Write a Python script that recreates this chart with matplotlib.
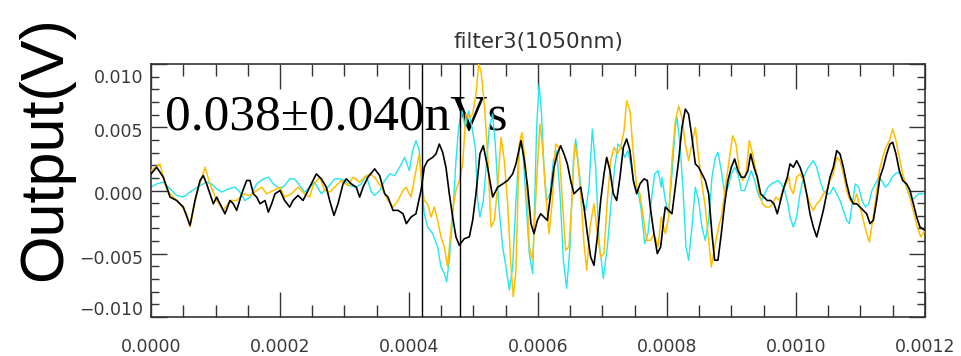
import numpy as np
import matplotlib.pyplot as plt
from matplotlib.ticker import MultipleLocator
from matplotlib.transforms import ScaledTranslation

# time in microseconds, signal in millivolts
t_black = [0, 8.8, 19.1, 24.3, 29.5, 39.8, 50.1, 60.5, 68.2, 76.0, 81.1, 86.3, 91.5, 96.6, 101.8, 109.6,
           114.7, 122.5, 127.6, 132.8, 140.6, 148.3, 153.5, 158.7, 163.8, 169.0, 176.8, 181.9, 187.1, 192.3, 200.0,
           207.2, 215.0, 220.2, 227.9, 235.7, 243.4, 251.2, 256.3, 264.1, 271.8, 277.0, 283.7, 289.9, 297.7,
           302.8, 310.6, 318.3, 323.5, 328.7, 336.4, 346.8, 354.5, 362.3, 367.4, 375.2, 383.0, 390.7, 395.9,
           403.1, 410.8, 418.6, 423.7, 428.9, 436.7, 441.8, 447.0, 452.2, 457.3, 462.5, 467.7, 472.8, 478.0,
           485.7, 493.5, 498.7, 503.8, 510.0, 515.2, 521.9, 529.7, 537.4, 545.2, 552.9, 560.7, 565.8, 573.6,
           578.8, 583.9, 589.1,
           593.8, 599.0, 604.1, 609.3, 614.5, 619.6, 624.8, 630.0, 635.1, 640.3, 645.5, 650.6, 655.8, 661.0,
           666.2, 671.3, 676.5, 681.6, 686.8, 692.0, 697.2, 702.3, 706.5, 711.6, 716.8, 722.0, 727.1, 732.3,
           737.5, 742.6, 747.8, 753.0, 758.1, 764.3, 769.5, 774.7, 779.8, 785.0, 790.2, 795.3,
           797.4, 802.5, 807.7, 812.9, 818.0, 823.2, 828.4, 833.5, 838.7, 843.9, 849.0, 854.2, 859.4, 864.6,
           869.7, 873.9, 879.0, 884.2, 889.4, 894.5, 899.7, 904.9, 910.0, 915.2, 920.4, 925.5, 929.7, 934.8,
           940.0, 945.2, 950.3, 955.5, 960.7, 965.8, 971.0, 976.2, 981.3, 986.5,
           990.7, 995.9, 1001.0, 1006.2, 1011.4, 1016.5, 1021.7, 1026.9, 1032.1, 1037.2, 1042.4, 1047.6,
           1052.7, 1057.9, 1063.1, 1068.2, 1073.4, 1078.6, 1083.7, 1088.9, 1094.1, 1099.2, 1104.4, 1109.6,
           1114.7, 1119.9, 1125.1, 1130.2, 1135.4, 1140.6, 1145.7, 1149.9, 1155.0, 1160.2, 1165.4, 1171.6,
           1176.8, 1181.9, 1187.1, 1192.2, 1200.0]
v_black = [1.31, 1.84, 1.05, 0.26, -0.52, -0.79, -1.31, -2.76, -0.79, 0.79, 1.18, 0.52, -0.26, -1.05, -0.52, -1.31,
           -1.84, -0.79, -1.05, -1.57, -0.26, 0.79, 0.79, -0.26, -0.52, -1.05, -0.79, -1.71, -1.05, -0.26, 0.0,
           -0.79, -1.31, -0.79, -0.39, -0.79, 0.0, 0.79, 1.31, 0.92, 0.26, -0.79, -1.97, -1.05, 0.52,
           0.92, 0.52, 0.26, -0.52, 0.26, 1.05, 1.71, 1.18, -0.26, -0.52, -1.57, -1.57, -1.84, -2.62,
           -2.10, -1.84, 0.0, 1.84, 2.36, 2.62, 2.89, 3.67, 3.02, 1.84, -0.26, -2.10, -3.67, -4.33,
           -3.81, -3.67, -2.36, -0.26, 2.89, 3.54, 1.84, -0.52, 0.26, 0.52, 0.79, 1.31, 2.10, 3.94,
           2.36, 0.26, -2.62,
           -3.41, -2.36, -1.84, -2.10, -2.36, -0.26, 1.84, 2.89, 3.54, 2.89, 2.10, 0.79, -0.26, 0.0,
           0.26, -1.31, -3.41, -5.25, -5.91, -3.67, -0.79, 1.31, 2.62, 1.57, -0.26, -0.79, 1.05, 3.41,
           4.07, 3.15, 0.79, -0.26, 0.52, 0.92, 0.79, -1.57, -3.41, -4.99, -4.46, -2.10,
           -1.31, -1.57, -1.84, 0.26, 2.36, 4.99, 6.43, 6.04, 4.20, 2.10, 1.84, 1.31, 0.79, -0.26,
           -3.41, -5.51, -5.51, -3.41, -1.05, 0.79, 1.84, 2.49, 1.57, 1.05, 1.05, 1.57, 2.89, 1.84,
           1.05, -0.26, -0.52, -0.79, -0.79, -1.05, -1.84, -0.79, 0.26, 1.05,
           2.10, 1.84, 2.36, 1.84, 1.05, -0.26, -1.84, -2.89, -3.67, -2.62, -1.57, -0.26,
           1.05, 1.84, 3.15, 2.89, 1.84, 0.52, -0.52, -1.05, -1.05, -1.31, -1.57, -1.84,
           -2.62, -2.36, -0.79, 1.05, 1.84, 2.89, 3.67, 3.81, 2.89, 1.57, 0.79, 0.52,
           0.0, -1.05, -2.10, -2.89, -3.15]

t_orange = [0, 14.0, 21.7, 29.5, 44.9, 55.3, 60.5, 70.8, 83.7, 91.5, 101.8, 112.1, 122.5, 132.8, 143.2,
            153.5, 163.8, 171.6, 179.3, 189.7, 200.0,
            207.2, 217.6, 227.9, 238.2, 246.0, 251.2, 261.5, 269.3, 277.0, 287.3, 295.1, 305.4, 313.2,
            323.5, 331.3, 339.0, 346.8, 357.1, 367.4, 375.2, 383.0, 390.7,
            395.3, 403.1, 410.8, 416.0, 420.1, 423.7, 428.9, 434.1, 439.2, 444.4, 449.6, 454.7, 459.9,
            463.5, 467.7, 472.8, 478.0, 483.2, 488.3, 493.5, 498.7, 503.8, 508.0, 511.6, 516.8, 521.9,
            527.1, 532.3, 537.4, 542.6, 547.8, 552.9, 558.1, 561.7, 565.8, 571.0, 575.1, 581.4, 586.5, 591.7,
            593.8, 599.0, 603.1, 606.7, 611.9, 617.1, 622.2, 627.4, 632.6, 637.7, 642.9, 648.1, 653.2,
            656.8, 661.0, 666.2, 671.3, 675.5, 680.6, 686.8, 692.0, 697.2, 702.3, 707.5, 712.7, 717.8,
            723.0, 728.2, 733.3, 737.5, 742.6, 747.8, 753.0, 758.1, 763.3, 768.5, 774.7, 779.8, 786.0, 791.2,
            792.2, 797.4, 802.5, 807.7, 812.9, 818.0, 823.2, 828.4, 833.5, 838.7, 843.9, 849.0, 854.2,
            859.4, 864.6, 868.7, 873.9, 880.1, 885.3, 890.4, 895.6, 901.8, 907.0, 912.1, 917.3, 922.4,
            927.6, 932.8, 937.9, 943.1, 948.3, 953.4, 958.6, 963.8, 969.0, 974.1, 979.3, 984.5, 989.6,
            990.7, 995.9, 1001.0, 1006.2, 1011.4, 1016.5, 1021.7, 1026.9, 1032.1, 1037.2, 1042.4, 1047.6,
            1052.7, 1057.9, 1063.1, 1068.2, 1073.4, 1078.6, 1083.7, 1088.9, 1094.1, 1099.2, 1104.4, 1109.6,
            1113.7, 1118.9, 1124.0, 1129.2, 1134.4, 1139.5, 1144.7, 1149.9, 1155.0, 1160.2, 1165.4,
            1171.6, 1177.8, 1182.9, 1188.1, 1193.3, 1200.0]
v_orange = [1.57, 2.10, 0.52, -0.26, -1.05, -1.84, -2.89, -0.26, 1.84, 0.52, -0.79, -1.57, -0.79, -0.79, -0.26,
            -0.39, 0.0, 0.26, -0.26, 0.0, 0.26,
            -0.52, -0.26, 0.26, -0.26, -0.52, 0.39, 1.05, 0.0, -0.13, 0.39, 0.79, 0.39, 1.05,
            0.66, 1.05, 1.31, 1.05, 0.26, -0.79, -1.31, -0.79, 0.0,
            0.26, -0.52, 1.57, 2.89, 0.26, -0.79, -1.05, -2.10, -1.31, -2.36, -3.67, -4.46, -6.04,
            -3.94, -1.57, 0.0, 0.79, 2.10, 6.04, 5.77, 6.04, 7.61, 9.97, 9.45, 6.82, 2.89,
            -2.89, -2.36, 0.26, 4.20, 2.36, -1.05, -6.04, -8.40, -6.30, 3.67, 4.59, 1.57, -4.46, -5.51,
            -3.41, 1.84, 5.25, 3.67, -0.26, -3.41, -0.79, 3.67, 3.41, -0.79, -4.72, -4.46, -0.26,
            3.67, 2.62, -0.26, -4.20, -6.30, -2.89, -1.05, -3.41, -5.25, -4.99, -0.79, 2.36, 3.41,
            2.89, 3.41, 4.72, 7.09, 6.30, 2.89, 0.26, -0.26, -2.10, -3.94, -3.94, -3.41, -4.46, -2.10,
            -2.36, -3.41, -2.10, 2.36, 5.51, 6.69, 5.77, 3.67, 2.36, 3.67, 4.99, 2.62, 0.52,
            -1.31, -3.94, -6.04, -4.46, -2.89, -1.84, 0.26, 2.10, 4.33, 3.67, 1.57, 0.79, 1.31,
            3.94, 2.89, 1.57, -0.26, -1.05, -1.31, -1.31, -1.05, -0.52, -0.79, 0.0, 0.52, 1.05,
            0.26, -0.26, 1.05, 1.31, 0.79, -0.26, -1.05, -1.57, -1.05, -0.79, -0.26, 0.0,
            0.79, 1.31, 2.62, 2.36, 1.31, 0.0, -0.79, -1.05, -0.26, -1.31, -2.36, -3.41,
            -4.07, -2.36, -0.52, 1.57, 2.62, 3.41, 3.94, 4.86, 3.94, 2.62, 1.31,
            0.26, -0.79, -1.84, -2.89, -3.67, -3.15]

t_cyan = [0, 8.8, 19.1, 29.5, 39.8, 50.1, 60.5, 68.2, 76.0, 86.3, 94.0, 101.8, 109.6, 119.9, 130.2, 138.0,
          145.7, 153.5, 163.8, 174.2, 181.9, 189.7, 200.0,
          207.2, 215.0, 222.7, 230.5, 238.2, 246.0, 253.7, 264.1, 274.4, 284.8, 292.5, 300.3, 308.0, 318.3,
          326.1, 333.9, 341.6, 346.8, 354.5, 362.3, 370.0, 377.8, 385.5, 393.3,
          400.5, 405.6, 410.8, 416.0, 420.1, 423.7, 428.9, 436.7, 444.4, 449.6, 454.7, 458.4, 462.5,
          467.7, 472.8, 477.0, 482.1, 487.3, 492.5, 497.6, 502.8, 506.4, 510.0, 515.2, 520.4, 524.5,
          529.7, 533.8, 539.0, 545.2, 550.3, 555.5, 560.7, 565.8, 571.0, 576.2, 581.4, 586.5, 591.7,
          593.8, 597.9, 601.6, 605.2, 609.3, 613.4, 618.6, 623.8, 628.9, 634.1, 639.3, 644.4, 649.6,
          654.8, 658.4, 663.6, 668.7, 673.9, 679.1, 684.2, 689.4, 694.6, 701.3, 707.5, 713.7, 718.9,
          724.0, 729.2, 734.4, 739.5, 744.7, 749.9, 755.0, 760.2, 765.4, 770.5, 775.7, 780.9, 786.0, 791.2,
          792.2, 797.4, 802.5, 807.7, 812.9, 815.5, 820.6, 825.8, 829.4, 833.5, 838.7, 843.9, 849.0,
          854.2, 859.4, 864.6, 869.7, 874.9, 879.0, 884.2, 889.4, 894.5, 899.7, 904.9, 910.0, 915.2,
          920.4, 925.5, 930.7, 935.9, 941.0, 946.2, 951.4, 956.5, 961.7, 966.9, 972.0, 977.2, 982.4, 987.5,
          990.7, 995.9, 1001.0, 1006.2, 1011.4, 1019.1, 1026.9, 1032.1, 1037.2, 1042.4, 1047.6, 1052.7,
          1057.9, 1063.1, 1068.2, 1073.4, 1078.6, 1082.7, 1087.9, 1092.0, 1097.2, 1102.3, 1107.5, 1112.7,
          1117.8, 1123.0, 1128.2, 1133.3, 1138.5, 1143.7, 1148.8, 1154.0, 1159.2, 1164.3, 1169.5, 1174.7,
          1179.9, 1185.0, 1190.2, 1195.4, 1200.0]
v_cyan = [0.26, 0.52, 0.66, 0.13, -0.39, -0.52, -0.13, 0.13, 0.39, 0.66, 0.52, 0.13, -0.13, 0.13, 0.26, -0.13,
          -0.79, -0.52, 0.52, 0.92, 1.05, 0.52, 0.13,
          0.39, 0.92, 0.92, 0.39, -0.13, 0.26, 0.66, -0.26, 0.26, 0.92, 0.92, 0.79, 0.39, 0.26,
          0.52, 1.18, -0.13, -0.39, 0.0, 0.79, 1.31, 1.18, 1.84, 2.62,
          1.57, 3.15, 3.94, 3.15, 0.26, -1.84, -2.89, -3.41, -4.46, -6.04, -6.56, -7.22, -5.51,
          -2.10, 2.36, 4.99, 6.30, 4.99, 6.30, 4.99, 3.41, -0.79, -2.10, -0.79, 2.36, 4.99,
          6.04, 3.67, -1.05, -4.46, -6.04, -7.87, -6.04, -0.79, 3.41, 3.41, -0.79, -4.99, -6.56,
          -2.89, 4.99, 8.40, 6.30, 1.84, -0.79, -0.26, 2.36, 3.15, -0.26, -5.51, -7.74, -4.46,
          2.36, 4.07, 1.57, -0.79, -1.57, 0.26, 4.86, 1.84, -3.94, -6.96, -4.46, -0.79, 1.84,
          3.67, 3.41, 2.62, 3.15, 1.84, 0.26, 0.0, -1.57, -4.20, -3.41, -0.79, 1.31, 1.57, 0.26,
          1.05, -0.79, -1.84, 1.31, 4.99, 5.77, 3.41, -0.79, -4.46, -5.51, -2.89, 0.26, -0.79,
          -2.89, -3.94, -2.36, 1.05, 2.62, 3.02, 1.57, -0.26, 0.26, 1.31, 1.84, 1.31, 0.0,
          0.0, 0.79, 1.57, 0.79, -0.26, -0.79, -0.26, 0.26, 0.52, 0.66, 0.79, 0.52, 0.0, -1.05,
          -2.10, -2.89, -2.10, -0.26, 1.05, 1.84, 2.36, 1.84, 0.79, 0.0, -0.26, -0.26,
          0.26, -0.26, -0.79, -1.57, -2.36, -2.62, -0.79, 0.52, 0.26, -0.79, -1.31, -1.05,
          0.0, 0.52, 1.05, 0.79, 0.26, 0.52, 1.05, 1.31, 1.44, 1.05, 0.52, -0.26,
          -0.79, -0.52, -0.26, -0.26, -0.26]

window_us = [420.2, 479.1]
title = "filter3(1050nm)"
ylabel = "Output(V)"
note = "0.038\u00b10.040nVs"

fig = plt.figure(figsize=(9.61, 3.56), dpi=100)
ax = fig.add_axes([151 / 961, 39 / 356, 774 / 961, 253 / 356])

ax.text(14 / 774, 187 / 253, note, transform=ax.transAxes, family="Liberation Serif",
        fontsize=37, ha="left", va="baseline", zorder=1)

ax.plot(np.array(t_cyan) * 1e-6, np.array(v_cyan) * 1e-3, color="#22e6f0", lw=1.0, zorder=2)
ax.plot(np.array(t_orange) * 1e-6, np.array(v_orange) * 1e-3, color="#ffbf00", lw=1.1, zorder=3)
ax.plot(np.array(t_black) * 1e-6, np.array(v_black) * 1e-3, color="black", lw=1.2, zorder=4)
for t in window_us:
    ax.axvline(t * 1e-6, color="black", lw=1.0, zorder=5)

ax.set_xlim(0, 0.0012)
ax.set_ylim(-0.010, 0.010)

xt = np.arange(0, 0.00121, 0.0002)
ax.set_xticks(xt)
ax.set_xticklabels([f"{v:.4f}" for v in xt])
ax.xaxis.set_minor_locator(MultipleLocator(0.00005))
yt = [-0.010, -0.005, 0.0, 0.005, 0.010]
ax.set_yticks(yt)
ax.set_yticklabels([f"{v:.3f}".replace("-", "\u2212") for v in yt])
ax.yaxis.set_minor_locator(MultipleLocator(0.001))

grey = "#333333"
ax.tick_params(which="both", direction="in", top=True, right=True, color=grey, width=1.0,
               labelcolor="#3a3a3a", labelsize=12.5)
ax.tick_params(axis="x", which="major", length=18, pad=15)
ax.tick_params(axis="x", which="minor", length=8.5)
ax.tick_params(axis="y", which="major", length=11.5, pad=5.5)
ax.tick_params(axis="y", which="minor", length=5.5)
for s in ax.spines.values():
    s.set_color(grey)
    s.set_linewidth(1.2)

# the end labels sit a little inside the frame in the reference
shift = {0: 0.09, 4: -0.12}
for i, lab in enumerate(ax.get_yticklabels()):
    dy = shift.get(i, -0.03)
    lab.set_transform(lab.get_transform() + ScaledTranslation(0, dy, fig.dpi_scale_trans))

fig.text(538 / 961, 1 - 42 / 356, title, ha="center", va="center", fontsize=15.5, color="#333333")
fig.text(46 / 961, 1 - 149 / 356, ylabel, rotation=90, ha="center", va="center",
         family="Liberation Sans", fontsize=44)

fig.savefig("out.png", dpi=100)
